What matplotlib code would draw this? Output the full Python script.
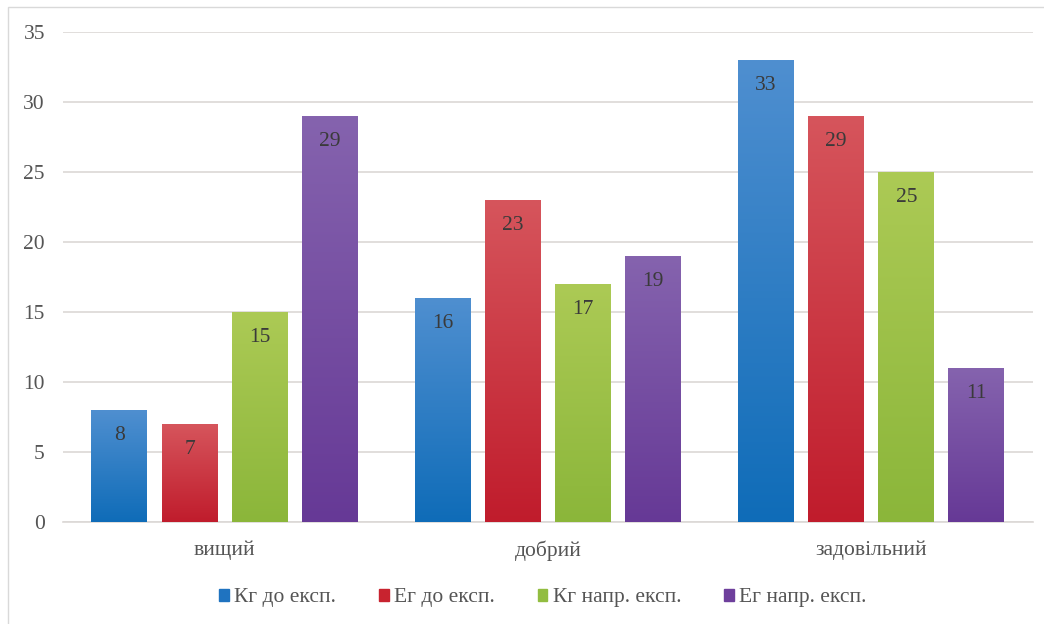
import numpy as np
import matplotlib
matplotlib.use("Agg")
from matplotlib import pyplot as plt
from matplotlib.colors import LinearSegmentedColormap
from matplotlib.patches import Rectangle

plt.rcParams['font.family'] = ['Liberation Serif', 'DejaVu Serif']

# дані
categories = ['вищий', 'добрий', 'задовільний']
series_names = ['Кг до експ.', 'Ег до експ.', 'Кг напр. експ.', 'Ег напр. експ.']
kg_before = [8, 16, 33]
eg_before = [7, 23, 29]
kg_during = [15, 17, 25]
eg_during = [29, 19, 11]
series = [kg_before, eg_before, kg_during, eg_during]

# кольори (верх, низ) для градієнта
colors = [('#4f8fd0', '#0f6cb8'),
          ('#d6555c', '#c01c2c'),
          ('#acca55', '#8bb63a'),
          ('#8563ae', '#663996')]
legend_colors = ['#1f73c0', '#c8232f', '#92bd40', '#6e3f9c']

fig = plt.figure(figsize=(10.44, 6.24), dpi=100)
ax = fig.add_axes([0.0603, 0.1635, 0.929, 0.7852])

x = np.arange(len(categories))
width = 0.173
pitch = 0.217
grad = np.linspace(0, 1, 256).reshape(-1, 1)

for i, vals in enumerate(series):
    offs = x + (i - 1.5) * pitch
    bars = ax.bar(offs, vals, width, color=legend_colors[i], label=series_names[i], zorder=2)
    cmap = LinearSegmentedColormap.from_list('g%d' % i, [colors[i][1], colors[i][0]])
    for b, v in zip(bars, vals):
        im = ax.imshow(grad, cmap=cmap, aspect='auto', origin='lower',
                       extent=[b.get_x(), b.get_x() + b.get_width(), 0, v], zorder=3)
        im.set_clip_path(b)
        ax.text(b.get_x() + b.get_width() / 2, v - 1.8, str(v), ha='center', va='center',
                fontsize=15.5, color='#3a3a3a', zorder=4)

ax.set_xlim(-0.5, 2.5)
ax.set_ylim(0, 35)
ax.set_yticks(range(0, 36, 5))
ax.set_xticks(x)
ax.set_xticklabels(categories)
ax.tick_params(axis='both', length=0, labelsize=15.5, labelcolor='#555555')
ax.tick_params(axis='y', pad=13)
ax.tick_params(axis='x', pad=13)
ax.grid(axis='y', color='#dcd8d6', linewidth=1.2, zorder=0)
ax.set_axisbelow(True)
for s in ['top', 'right', 'left']:
    ax.spines[s].set_visible(False)
ax.spines['bottom'].set_color('#dcd8d6')
ax.spines['bottom'].set_linewidth(1.2)

handles = [Rectangle((0, 0), 1, 1, color=c) for c in legend_colors]
leg = fig.legend(handles, series_names, loc='center', bbox_to_anchor=(0.52, 0.042), ncol=4,
                 frameon=False, fontsize=15.5, handlelength=0.45, handleheight=0.5,
                 handletextpad=0.25, columnspacing=2.0, labelcolor='#555555')

# рамка
fig.patches.append(Rectangle((0.008, -0.01), 1.0, 0.999, transform=fig.transFigure,
                             fill=False, edgecolor='#d9d9d9', linewidth=1))

fig.savefig('out.png', dpi=100)
